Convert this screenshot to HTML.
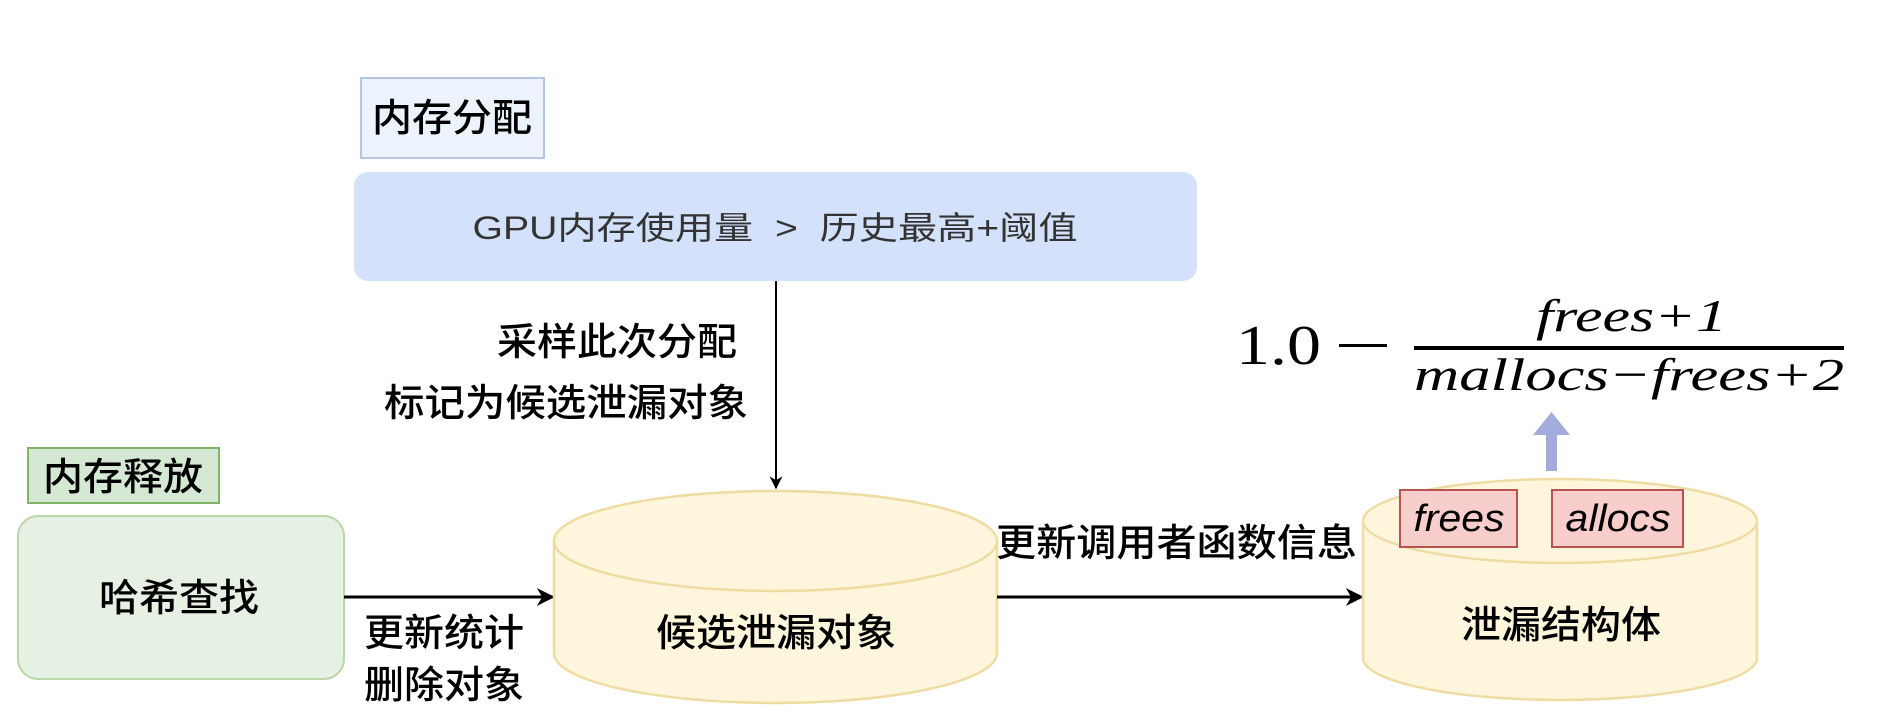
<!DOCTYPE html>
<html><head><meta charset="utf-8"><style>html,body{margin:0;padding:0;background:#fff}svg{display:block}</style></head>
<body>
<svg width="1900" height="720" viewBox="0 0 1900 720" xmlns="http://www.w3.org/2000/svg">
<defs>
<marker id="ah" viewBox="0 0 10 10" refX="9" refY="5" markerWidth="13" markerHeight="13" markerUnits="userSpaceOnUse" orient="auto"><path d="M0,0 L10,5 L0,10 L3,5 Z" fill="#000"/></marker>
<marker id="ah2" viewBox="0 0 10 10" refX="9" refY="5" markerWidth="18" markerHeight="18" markerUnits="userSpaceOnUse" orient="auto"><path d="M0,0 L10,5 L0,10 L3,5 Z" fill="#000"/></marker>
</defs>
<g font-family="'Liberation Sans','Noto Sans CJK SC',sans-serif" fill="#000" font-weight="500">
<rect x="361" y="78" width="183" height="80" fill="#edf3fc" stroke="#b5c5e3" stroke-width="2"/>
<text x="452" y="131" font-size="38" text-anchor="middle" textLength="160" lengthAdjust="spacingAndGlyphs">内存分配</text>
<rect x="354" y="172" width="843" height="109" rx="14" fill="#d3e1fa"/>
<text x="775" y="239" font-size="32" text-anchor="middle" fill="#333" font-weight="400" textLength="605" lengthAdjust="spacingAndGlyphs">GPU内存使用量 &#160;&gt;&#160; 历史最高+阈值</text>
<line x1="776" y1="281" x2="776" y2="488" stroke="#000" stroke-width="2" marker-end="url(#ah)"/>
<text x="737" y="355" font-size="38" text-anchor="end" textLength="240" lengthAdjust="spacingAndGlyphs">采样此次分配</text>
<text x="748" y="416" font-size="38" text-anchor="end" textLength="364" lengthAdjust="spacingAndGlyphs">标记为候选泄漏对象</text>
<rect x="28" y="448" width="191" height="55" fill="#d5e8d4" stroke="#82b366" stroke-width="2"/>
<text x="123" y="490" font-size="38" text-anchor="middle" textLength="160" lengthAdjust="spacingAndGlyphs">内存释放</text>
<rect x="18" y="516" width="326" height="163" rx="20" fill="#e7f1e3" stroke="#b9d7a8" stroke-width="2"/>
<text x="179" y="611" font-size="38" text-anchor="middle" textLength="160" lengthAdjust="spacingAndGlyphs">哈希查找</text>
<line x1="344" y1="597" x2="553" y2="597" stroke="#000" stroke-width="3" marker-end="url(#ah2)"/>
<text x="364" y="646" font-size="38" textLength="160" lengthAdjust="spacingAndGlyphs">更新统计</text>
<text x="364" y="698" font-size="38" textLength="160" lengthAdjust="spacingAndGlyphs">删除对象</text>
<path d="M554,541 L554,653 A221.5,50 0 0 0 997,653 L997,541" fill="#fdf5dc" stroke="#eedca2" stroke-width="2.5"/>
<ellipse cx="775.5" cy="541" rx="221.5" ry="50" fill="#fdf5dc" stroke="#eedca2" stroke-width="2.5"/>
<text x="776" y="646" font-size="38" text-anchor="middle" textLength="240" lengthAdjust="spacingAndGlyphs">候选泄漏对象</text>
<line x1="997" y1="597" x2="1362" y2="597" stroke="#000" stroke-width="3" marker-end="url(#ah2)"/>
<text x="996" y="556" font-size="38" textLength="361" lengthAdjust="spacingAndGlyphs">更新调用者函数信息</text>
<path d="M1363,521 L1363,658 A197,42 0 0 0 1757,658 L1757,521" fill="#fdf5dc" stroke="#eedca2" stroke-width="2.5"/>
<ellipse cx="1560" cy="521" rx="197" ry="42" fill="#fdf5dc" stroke="#eedca2" stroke-width="2.5"/>
<text x="1561" y="638" font-size="38" text-anchor="middle" textLength="200" lengthAdjust="spacingAndGlyphs">泄漏结构体</text>
<rect x="1400" y="490" width="117" height="57" fill="#f8cecc" stroke="#b85450" stroke-width="2"/>
<text x="1459" y="531" font-size="38" font-style="italic" font-weight="400" text-anchor="middle" textLength="91" lengthAdjust="spacingAndGlyphs">frees</text>
<rect x="1552" y="490" width="131" height="57" fill="#f8cecc" stroke="#b85450" stroke-width="2"/>
<text x="1618" y="531" font-size="38" font-style="italic" font-weight="400" text-anchor="middle" textLength="105" lengthAdjust="spacingAndGlyphs">allocs</text>
<rect x="1546" y="434" width="11" height="37" fill="#a3abdc"/>
<path d="M1533,435 L1551.5,412 L1570,435 Z" fill="#a3abdc"/>
</g>
<g font-family="'Liberation Serif',serif" fill="#000">
<text x="1236" y="364" font-size="56" textLength="85" lengthAdjust="spacingAndGlyphs">1.0</text>
<rect x="1339" y="344" width="48" height="3"/>
<rect x="1414" y="346" width="430" height="4"/>
<text x="1536" y="331" font-size="46" font-style="italic" textLength="191" lengthAdjust="spacingAndGlyphs">frees+1</text>
<text x="1414" y="390" font-size="46" font-style="italic" textLength="430" lengthAdjust="spacingAndGlyphs">mallocs−frees+2</text>
</g>
</svg>
</body></html>
